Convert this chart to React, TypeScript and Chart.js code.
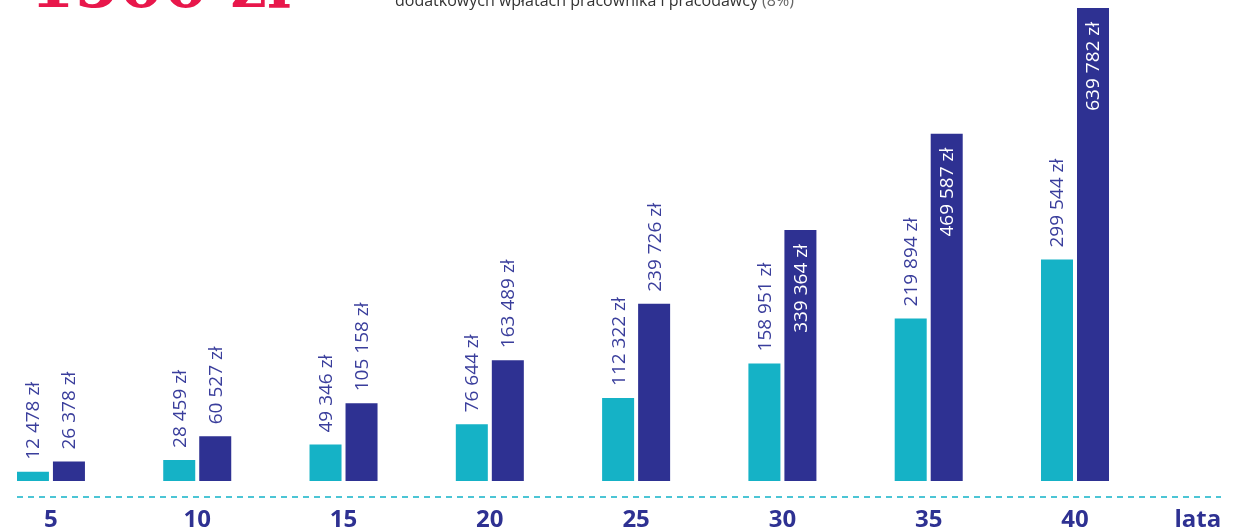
import React, { useEffect, useRef } from 'react';
import { Chart, registerables } from 'chart.js';

Chart.register(...registerables);

// ---- data ----
const years = [5, 10, 15, 20, 25, 30, 35, 40];
const baseSavings = [12478, 28459, 49346, 76644, 112322, 158951, 219894, 299544];
const extraSavings = [26378, 60527, 105158, 163489, 239726, 339364, 469587, 639782];
const xTickValues = [5, 10, 15, 20, 25, 30, 35, 40];
const unitLabel = 'lata';
const unitTickPos = 44.2;
const titleText = '1500 zł';
const subtitleText = 'dodatkowych wpłatach pracownika i pracodawcy';
const subtitleNote = '(8%)';

const Y_MIN = -21640;
const Y_MAX = 650600;

const TEAL = '#15b2c6';
const NAVY = '#2e3192';
const LABEL = '#3a3e9c';
const DASH = '#4cc5d5';

const fmt = (v: number) => v.toString().replace(/\B(?=(\d{3})+(?!\d))/g, ' ') + ' zł';

const valueLabels = {
  id: 'valueLabels',
  afterDatasetsDraw(chart: any) {
    const ctx = chart.ctx;
    ctx.save();
    ctx.font = '400 19px "Open Sans"';
    chart.data.datasets.forEach((ds: any, di: number) => {
      const meta = chart.getDatasetMeta(di);
      meta.data.forEach((el: any, i: number) => {
        const v = ds.data[i].y;
        const text = fmt(v);
        const inside = di === 1 && v > 300000;
        ctx.save();
        ctx.translate(el.x + 1, inside ? el.y + 14 : el.y - 12);
        ctx.rotate(-Math.PI / 2);
        ctx.textAlign = inside ? 'right' : 'left';
        ctx.textBaseline = 'middle';
        ctx.fillStyle = inside ? '#ffffff' : LABEL;
        ctx.fillText(text, 0, 0);
        ctx.restore();
      });
    });
    ctx.restore();
  },
};

export default function App() {
  const ref = useRef<HTMLCanvasElement>(null);

  useEffect(() => {
    if (!ref.current) return;
    const chart = new Chart(ref.current, {
      type: 'bar',
      data: {
        datasets: [
          {
            label: 'base',
            data: years.map((x, i) => ({ x, y: baseSavings[i] })),
            backgroundColor: TEAL,
            borderWidth: 0,
          },
          {
            label: 'extra',
            data: years.map((x, i) => ({ x, y: extraSavings[i] })),
            backgroundColor: NAVY,
            borderWidth: 0,
          },
        ],
      },
      options: {
        animation: false,
        responsive: false,
        events: [],
        categoryPercentage: 0.586,
        barPercentage: 0.889,
        layout: { padding: { left: 17, right: 18, top: 0, bottom: -14 } },
        plugins: { legend: { display: false }, tooltip: { enabled: false }, title: { display: false } },
        scales: {
          x: {
            type: 'linear',
            offset: false,
            min: 3.84,
            max: 44.99,
            grid: { display: false, drawTicks: false, offset: false },
            border: { display: false },
            afterBuildTicks: (scale: any) => {
              scale.ticks = [...xTickValues, unitTickPos].map((value) => ({ value }));
            },
            ticks: {
              autoSkip: false,
              maxRotation: 0,
              padding: 11,
              color: NAVY,
              font: { family: '"Open Sans"', size: 24, weight: 'bold', lineHeight: 1 },
              callback: (value: any) => (value === unitTickPos ? unitLabel : String(value)),
            },
          },
          y: {
            display: true,
            min: Y_MIN,
            max: Y_MAX,
            afterBuildTicks: (scale: any) => {
              scale.ticks = [{ value: Y_MIN }];
            },
            ticks: { display: false },
            grid: { display: true, drawTicks: false, drawOnChartArea: true, color: DASH, lineWidth: 2 },
            border: { display: false, dash: [6, 5] },
          },
        },
      } as any,
      plugins: [valueLabels],
    });
    return () => chart.destroy();
  }, []);

  return (
    <div style={{ position: 'fixed', left: 0, top: 0, width: 1239, height: 529, overflow: 'hidden', background: '#fff' }}>
      <canvas ref={ref} width={1239} height={529} style={{ position: 'absolute', left: 0, top: 0 }} />
      <div
        style={{
          position: 'absolute',
          left: 30,
          top: -47,
          fontFamily: '"DejaVu Serif"',
          fontWeight: 'bold',
          fontSize: 64,
          lineHeight: '64px',
          color: '#e8174b',
          whiteSpace: 'nowrap',
        }}
      >
        {titleText}
      </div>
      <div
        style={{
          position: 'absolute',
          left: 395,
          top: -8,
          fontFamily: '"Open Sans"',
          fontSize: 16,
          lineHeight: '16px',
          color: '#333',
          whiteSpace: 'nowrap',
        }}
      >
        {subtitleText} <span style={{ color: '#666' }}>{subtitleNote}</span>
      </div>
    </div>
  );
}
